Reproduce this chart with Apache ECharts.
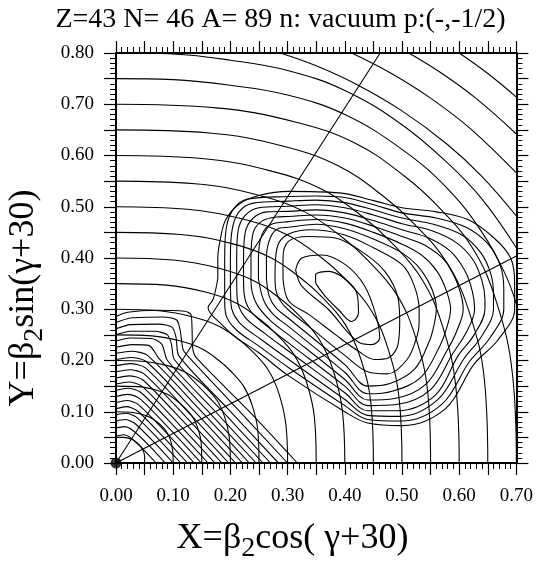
<!DOCTYPE html>
<html>
<head>
<meta charset="utf-8">
<script src="https://cdn.jsdelivr.net/npm/echarts@6/dist/echarts.min.js"></script>
<style>
  html, body { margin: 0; padding: 0; background: #fff; }
  #chart { width: 536px; height: 561px; }
</style>
</head>
<body>
<div id="chart"></div>
<script>
// titles
const titleText = 'Z=43 N= 46 A= 89 n: vacuum p:(-,-1/2)'
const xTitle = ['X=β', '2', 'cos( γ+30)']
const yTitle = ['Y=β', '2', 'sin(γ+30)']

// concentric arcs (0.05 steps)
const ringArcs = [
  [[0, .05], [.013, .05], [.023, .048], [.03, .045], [.036, .04], [.04, .036], [.045, .03], [.048, .023], [.05, .013], [.05, 0]],
  [[0, .1], [.025, .099], [.045, .095], [.06, .089], [.072, .08], [.08, .072], [.089, .06], [.095, .045], [.099, .025], [.1, 0]],
  [[0, .15], [.038, .149], [.068, .143], [.09, .134], [.108, .12], [.12, .108], [.134, .09], [.143, .068], [.149, .038], [.15, 0]],
  [[0, .2], [.05, .198], [.09, .19], [.12, .178], [.144, .16], [.16, .144], [.178, .12], [.19, .09], [.198, .05], [.2, 0]],
  [[0, .25], [.063, .248], [.113, .238], [.15, .223], [.18, .2], [.2, .18], [.223, .15], [.238, .113], [.248, .063], [.25, 0]],
  [[0, .3], [.075, .297], [.135, .285], [.18, .267], [.216, .24], [.24, .216], [.267, .18], [.285, .135], [.297, .075], [.3, 0]],
  [[0, .35], [.088, .347], [.158, .333], [.21, .312], [.252, .28], [.28, .252], [.312, .21], [.333, .158], [.347, .088], [.35, 0]],
  [[0, .4], [.1, .396], [.18, .38], [.24, .356], [.288, .32], [.32, .288], [.356, .24], [.38, .18], [.396, .1], [.4, 0]],
  [[0, .45], [.113, .446], [.203, .428], [.27, .401], [.324, .36], [.36, .324], [.401, .27], [.428, .203], [.446, .113], [.45, 0]],
  [[0, .5], [.125, .495], [.225, .475], [.3, .445], [.36, .4], [.4, .36], [.445, .3], [.475, .225], [.495, .125], [.5, 0]],
  [[0, .55], [.138, .545], [.248, .523], [.33, .49], [.396, .44], [.44, .396], [.49, .33], [.523, .248], [.545, .138], [.55, 0]],
  [[0, .6], [.15, .594], [.27, .57], [.36, .534], [.432, .48], [.48, .432], [.534, .36], [.57, .27], [.594, .15], [.6, 0]],
  [[0, .65], [.163, .644], [.293, .618], [.39, .579], [.468, .52], [.52, .468], [.579, .39], [.618, .293], [.644, .163], [.65, 0]],
  [[0, .7], [.175, .693], [.315, .665], [.42, .623], [.504, .56], [.56, .504], [.623, .42], [.665, .315], [.693, .175], [.7, 0]],
  [[0, .75], [.1, .748], [.2, .737], [.3, .718], [.4, .68], [.5, .612], [.58, .535], [.64, .45], [.68, .37], [.7, .31]],
  [[0, .8], [.1, .798], [.2, .786], [.3, .766], [.4, .727], [.5, .66], [.58, .585], [.64, .515], [.7, .42]]
]
const outerArcs = [
  [[.287, .8], [.35, .775], [.42, .739], [.5, .687], [.58, .621], [.64, .559], [.7, .482]],
  [[.412, .8], [.48, .761], [.55, .712], [.62, .652], [.7, .566]],
  [[.512, .8], [.57, .76], [.63, .711], [.7, .642]],
  [[.6, .8], [.65, .76], [.7, .714]]
]

// closed contours round the minimum
const wellContours = [
  [[.349, .351], [.349, .367], [.372, .374], [.398, .361], [.421, .332], [.424, .293], [.412, .276], [.389, .299], [.366, .325], [.349, .351]],
  [[.314, .377], [.325, .4], [.36, .406], [.401, .387], [.435, .345], [.455, .286], [.461, .244], [.447, .231], [.427, .234], [.406, .254], [.372, .299], [.325, .345], [.314, .377]],
  [[.292, .36], [.292, .4], [.302, .433], [.337, .442], [.383, .439], [.429, .413], [.47, .374], [.493, .322], [.496, .277], [.493, .231], [.476, .205], [.452, .202], [.424, .218], [.383, .251], [.337, .29], [.302, .316], [.292, .36]],
  [[.278, .36], [.279, .4], [.285, .43], [.302, .447], [.34, .455], [.4, .445], [.45, .42], [.5, .387], [.52, .35], [.53, .3], [.53, .276], [.527, .25], [.509, .202], [.474, .174], [.44, .178], [.4, .21], [.35, .255], [.302, .298], [.288, .315], [.28, .335], [.278, .36]],
  [[.263, .36], [.263, .4], [.27, .44], [.285, .458], [.302, .46], [.35, .466], [.4, .457], [.45, .437], [.5, .41], [.527, .385], [.548, .35], [.558, .32], [.56, .3], [.556, .269], [.548, .238], [.522, .183], [.479, .155], [.44, .15], [.4, .192], [.302, .282], [.28, .302], [.268, .325], [.263, .36]],
  [[.249, .36], [.249, .4], [.255, .445], [.27, .465], [.302, .471], [.35, .475], [.4, .468], [.45, .45], [.5, .427], [.535, .405], [.562, .373], [.578, .335], [.585, .3], [.578, .263], [.566, .228], [.533, .167], [.483, .14], [.44, .135], [.4, .177], [.302, .266], [.275, .29], [.258, .318], [.249, .36]],
  [[.236, .36], [.236, .4], [.24, .45], [.255, .472], [.28, .48], [.302, .481], [.35, .484], [.4, .478], [.45, .462], [.5, .442], [.54, .425], [.575, .395], [.595, .355], [.605, .32], [.607, .3], [.596, .258], [.579, .22], [.542, .154], [.487, .126], [.44, .123], [.4, .163], [.302, .25], [.27, .278], [.247, .308], [.237, .34], [.236, .36]],
  [[.223, .36], [.223, .4], [.226, .45], [.24, .478], [.265, .49], [.302, .491], [.35, .494], [.4, .488], [.45, .473], [.5, .455], [.545, .44], [.585, .413], [.61, .375], [.623, .335], [.627, .3], [.612, .254], [.589, .214], [.55, .143], [.49, .114], [.44, .112], [.4, .15], [.302, .234], [.265, .266], [.235, .297], [.224, .33], [.223, .36]],
  [[.211, .36], [.211, .4], [.213, .45], [.225, .482], [.25, .498], [.302, .501], [.35, .504], [.4, .498], [.45, .484], [.5, .467], [.55, .454], [.595, .43], [.625, .395], [.64, .355], [.645, .32], [.645, .3], [.626, .25], [.598, .209], [.558, .132], [.493, .102], [.44, .102], [.4, .137], [.302, .218], [.26, .253], [.225, .285], [.212, .32], [.211, .36]],
  [[.2, .36], [.2, .4], [.203, .455], [.215, .49], [.24, .507], [.302, .511], [.35, .513], [.4, .508], [.45, .494], [.5, .478], [.555, .466], [.605, .445], [.638, .41], [.655, .37], [.66, .33], [.66, .3], [.639, .247], [.608, .203], [.563, .124], [.496, .091], [.44, .093], [.4, .124], [.302, .202], [.255, .24], [.215, .275], [.201, .31], [.2, .36]],
  [[.19, .36], [.19, .4], [.193, .46], [.205, .495], [.23, .515], [.302, .52], [.35, .521], [.4, .518], [.45, .504], [.5, .488], [.56, .478], [.612, .46], [.65, .428], [.672, .385], [.678, .34], [.678, .3], [.653, .243], [.618, .198], [.57, .115], [.499, .082], [.44, .085], [.4, .112], [.302, .186], [.25, .228], [.21, .26], [.192, .29], [.19, .32], [.19, .36]],
  [[.178, .36], [.178, .4], [.183, .44], [.192, .475], [.215, .505], [.25, .522], [.302, .53], [.39, .527], [.45, .512], [.5, .498], [.56, .49], [.615, .475], [.66, .44], [.69, .4], [.697, .35], [.697, .3], [.667, .239], [.626, .193], [.576, .106], [.501, .073], [.44, .078], [.4, .1], [.302, .17], [.25, .215], [.21, .245], [.185, .27], [.161, .303], [.17, .32], [.178, .36]]
]

// contours round the origin
const coreContours = [
  [[0, .286], [.02, .294], [.07, .298], [.12, .296], [.131, .29], [.133, .26], [.134, .225], [.14, .206], [.23, .104], [.317, 0]],
  [[0, .274], [.025, .283], [.083, .285], [.106, .279], [.112, .26], [.117, .222], [.123, .212], [.21, .108], [.3, 0]],
  [[0, .262], [.025, .27], [.075, .271], [.098, .265], [.105, .245], [.11, .209], [.197, .104], [.284, 0]],
  [[0, .25], [.025, .257], [.068, .257], [.09, .25], [.097, .232], [.102, .202], [.186, .101], [.27, 0]],
  [[0, .238], [.025, .244], [.062, .243], [.08, .232], [.09, .2], [.174, .1], [.257, 0]],
  [[0, .226], [.028, .231], [.058, .229], [.075, .204], [.16, .102], [.245, 0]],
  [[0, .214], [.027, .218], [.055, .21], [.144, .107], [.233, 0]],
  [[0, .202], [.026, .206], [.053, .198], [.137, .101], [.221, 0]],
  [[0, .19], [.025, .194], [.051, .186], [.13, .095], [.209, 0]],
  [[0, .178], [.024, .182], [.049, .174], [.123, .089], [.197, 0]],
  [[0, .166], [.023, .17], [.047, .162], [.116, .083], [.185, 0]],
  [[0, .154], [.022, .158], [.045, .15], [.109, .077], [.173, 0]],
  [[0, .142], [.021, .146], [.043, .138], [.102, .071], [.161, 0]],
  [[0, .13], [.02, .134], [.041, .126], [.095, .065], [.149, 0]],
  [[0, .118], [.019, .122], [.039, .114], [.088, .059], [.137, 0]],
  [[0, .106], [.018, .11], [.037, .102], [.081, .053], [.125, 0]],
  [[0, .094], [.017, .097], [.035, .09], [.074, .047], [.113, 0]],
  [[0, .082], [.016, .085], [.032, .078], [.066, .041], [.1, 0]],
  [[0, .068], [.014, .071], [.029, .064], [.058, .034], [.086, 0]],
  [[0, .052], [.013, .055], [.027, .048], [.048, .026], [.07, 0]]
]

// gamma = 0 and gamma = 30 rays, origin marker
const sectorLines = [
  [[0, 0], [.4619, .8]],
  [[0, 0], [.7, .4041]]
]
const originDot = [[0, 0]]

const serif = '"Liberation Serif", "Times New Roman", serif'
const chart = echarts.init(document.getElementById('chart'))

function contour(pts, smooth) {
  return {
    type: 'line',
    data: pts,
    symbol: 'none',
    smooth: smooth,
    silent: true,
    lineStyle: { color: '#000', width: 1.1 }
  }
}

const series = []
ringArcs.forEach(p => series.push(contour(p, 0.4)))
outerArcs.forEach(p => series.push(contour(p, 0.4)))
wellContours.forEach(p => series.push(contour(p, 0.35)))
coreContours.forEach(p => series.push(contour(p, 0.25)))
sectorLines.forEach(p => series.push(contour(p, false)))
series.push({
  type: 'scatter',
  data: originDot,
  symbolSize: 11,
  clip: false,
  silent: true,
  itemStyle: { color: '#000' },
  z: 5
})

// axes: labelled bottom/left, plain top/right
function makeAxis(extra, max, labelled) {
  return Object.assign({
    type: 'value',
    min: 0,
    max: max,
    interval: 0.05,
    axisLine: { show: true, onZero: false, lineStyle: { color: '#000', width: 2 } },
    axisTick: { show: true, inside: false, length: 12, lineStyle: { color: '#000', width: 1.2 } },
    minorTick: { show: true, splitNumber: 5, length: 6, lineStyle: { color: '#000', width: 1 } },
    splitLine: { show: false },
    minorSplitLine: { show: false },
    axisLabel: {
      show: labelled,
      color: '#000',
      fontFamily: serif,
      fontSize: 19,
      showMinLabel: true,
      showMaxLabel: true,
      formatter: v => (Math.round(v * 100) % 10 === 0 ? v.toFixed(2) : '')
    }
  }, extra)
}

// text widths for the axis titles with a subscript
const ctx = document.createElement('canvas').getContext('2d')
function textWidth(s, size) {
  ctx.font = size + 'px ' + serif
  return ctx.measureText(s).width
}
function subTitle(parts, pos, rotation) {
  const w0 = textWidth(parts[0], 36)
  const w1 = textWidth(parts[1], 28)
  const w2 = textWidth(parts[2], 36)
  const x0 = -(w0 + w1 + w2) / 2
  const mk = (s, x, y, size) => ({
    type: 'text',
    x: x,
    y: y,
    style: { text: s, fontFamily: serif, fontSize: size, fill: '#000', textAlign: 'left', textVerticalAlign: 'middle' }
  })
  return {
    type: 'group',
    x: pos[0],
    y: pos[1],
    rotation: rotation,
    children: [
      mk(parts[0], x0, -12.2, 36),
      mk(parts[1], x0 + w0, -1.5, 28),
      mk(parts[2], x0 + w0 + w1, -12.2, 36)
    ]
  }
}

const option = {
  backgroundColor: '#fff',
  animation: false,
  grid: { left: 116, right: 17, top: 53, bottom: 98 },
  xAxis: [
    makeAxis({ position: 'bottom', axisLabel: Object.assign(makeAxis({}, 0.7, true).axisLabel, { margin: 24 }) }, 0.7, true),
    makeAxis({ position: 'top' }, 0.7, false)
  ],
  yAxis: [
    makeAxis({ position: 'left', axisLabel: Object.assign(makeAxis({}, 0.8, true).axisLabel, { margin: 22 }) }, 0.8, true),
    makeAxis({ position: 'right' }, 0.8, false)
  ],
  graphic: [
    {
      type: 'text',
      x: 280.5,
      y: 19.9,
      style: { text: titleText, fontFamily: serif, fontSize: 28, fill: '#000', textAlign: 'center', textVerticalAlign: 'middle' }
    },
    subTitle(xTitle, [292.5, 550.5], 0),
    subTitle(yTitle, [36, 298], Math.PI / 2)
  ],
  series: series
}
chart.setOption(option)
</script>
</body>
</html>
